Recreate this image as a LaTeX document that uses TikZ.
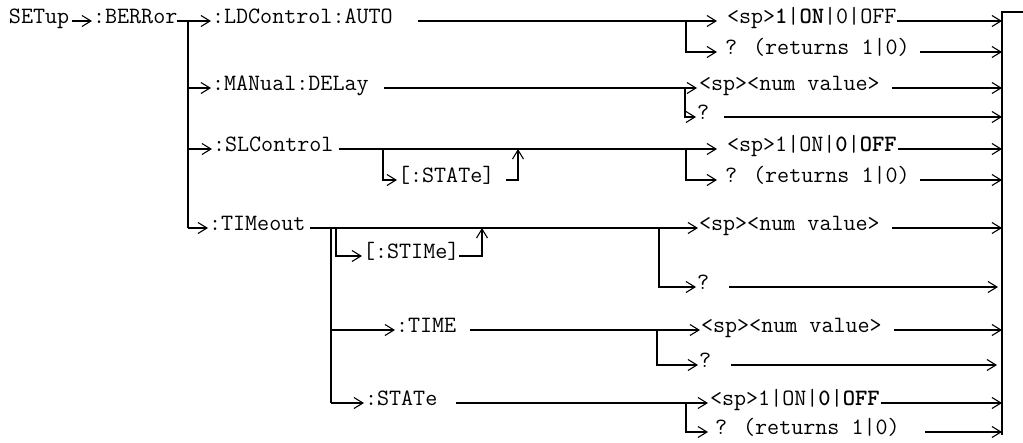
\documentclass[tikz,border=0pt]{standalone}
\usepackage{fontspec}
\usetikzlibrary{arrows.meta,calc}
\begin{document}
\begin{tikzpicture}[x=1pt,y=-1pt,
  lbl/.style={inner sep=0pt, outer sep=0pt, anchor=mid west, font=\ttfamily\fontsize{23.4}{28}\selectfont},
  wire/.style={line width=1.1pt},
  arr/.style={wire, -{Straight Barb[length=9pt,width=11pt]}},
]
\useasboundingbox (0,0) rectangle (1023,442);

% labels, left part
\node[lbl] (setup) at (9,21) {SETup};
\node[lbl] (berr) at (93,21) {:BERRor};
\node[lbl] (ldc) at (212,21) {:LDControl:AUTO};
\node[lbl] (man) at (212,88) {:MANual:DELay};
\node[lbl] (slc) at (213,149) {:SLControl};
\node[lbl] (tim) at (209,228) {:TIMeout};
\node[lbl] (slcst) at (398,180) {[:STATe]};
\node[lbl] (stim) at (363,256) {[:STIMe]};
\node[lbl] (time) at (396,330) {:TIME};
\node[lbl] (stat) at (365,403) {:STATe};

% parameter labels
\node[lbl] (ldcA) at (727,21) {<sp>\textbf{1}|\textbf{ON}|0|OFF};
\node[lbl] (ldcB) at (725,52) {? (returns 1|0)};
\node[lbl] (manA) at (699,88) {<sp><num value>};
\node[lbl] (manB) at (697,117) {?};
\node[lbl] (slcA) at (727,149) {<sp>1|ON|\textbf{0}|\textbf{OFF}};
\node[lbl] (slcB) at (725,180) {? (returns 1|0)};
\node[lbl] (timA) at (699,228) {<sp><num value>};
\node[lbl] (timB) at (697,287) {?};
\node[lbl] (timeA) at (701,330) {<sp><num value>};
\node[lbl] (timeB) at (699,365) {?};
\node[lbl] (statA) at (710,403) {<sp>1|ON|\textbf{0}|\textbf{OFF}};
\node[lbl] (statB) at (715,432) {? (returns 1|0)};

% junctions
\coordinate (tr) at (188,21);
\coordinate (ldcJ) at (686,21);
\coordinate (manJ) at (685,88);
\coordinate (slcJ) at (686,149);
\coordinate (slcS) at (383,149);
\coordinate (slcU) at (518,149);
\coordinate (timJ) at (659,228);
\coordinate (timT) at (331,228);
\coordinate (timS) at (336,228);
\coordinate (timU) at (482,228);
\coordinate (timeJ) at (657,330);
\coordinate (statJ) at (686,403);
\coordinate (busT) at (1002,12);
\coordinate (busB) at (1002,435);
\coordinate (busE) at (1023,12);

% left tree
\draw[arr] ([xshift=3pt]setup.mid east) -- ([xshift=-1pt]berr.mid west);
\draw[arr] (berr.mid east) -- ([xshift=-1pt]ldc.mid west);
\draw[wire] (tr) -- (tr |- tim.mid west);
\draw[arr] (tr |- man.mid west) -- ([xshift=-1pt]man.mid west);
\draw[arr] (tr |- slc.mid west) -- ([xshift=-1pt]slc.mid west);
\draw[arr] (tr |- tim.mid west) -- ([xshift=-1pt]tim.mid west);

% LDControl
\draw[arr] ([xshift=25pt]ldc.mid east) -- ([xshift=-10pt]ldcA.mid west);
\draw[arr] (ldcJ) -- (ldcJ |- ldcB.mid west) -- ([xshift=-8pt]ldcB.mid west);

% MANual:DELay
\draw[arr] ([xshift=15pt]man.mid east) -- ([xshift=-2pt]manA.mid west);
\draw[arr] (manJ) -- (manJ |- manB.mid west) -- ([xshift=-1pt]manB.mid west);

% SLControl
\draw[arr] ([xshift=5pt]slc.mid east) -- ([xshift=-10pt]slcA.mid west);
\draw[arr] (slcS) -- (slcS |- slcst.mid west) -- ([xshift=-1pt]slcst.mid west);
\draw[arr] ([xshift=12pt]slcst.mid east) -- (slcU |- slcst.mid east) -- (slcU);
\draw[arr] (slcJ) -- (slcJ |- slcB.mid west) -- ([xshift=-8pt]slcB.mid west);

% TIMeout
\draw[arr] ([xshift=5pt]tim.mid east) -- ([xshift=-1pt]timA.mid west);
\draw[wire] (timT) -- (timT |- stat.mid west);
\draw[arr] (timS) -- (timS |- stim.mid west) -- ([xshift=-1pt]stim.mid west);
\draw[arr] (stim.mid east) -- (timU |- stim.mid east) -- (timU);
\draw[arr] (timJ) -- (timJ |- timB.mid west) -- ([xshift=-1pt]timB.mid west);
\draw[arr] (timT |- time.mid west) -- ([xshift=-1pt]time.mid west);
\draw[arr] (timT |- stat.mid west) -- ([xshift=-1pt]stat.mid west);

% TIME
\draw[arr] ([xshift=14pt]time.mid east) -- ([xshift=-1pt]timeA.mid west);
\draw[arr] (timeJ) -- (timeJ |- timeB.mid west) -- ([xshift=-1pt]timeB.mid west);

% STATe
\draw[arr] ([xshift=19pt]stat.mid east) -- ([xshift=-2pt]statA.mid west);
\draw[arr] (statJ) -- (statJ |- statB.mid west) -- ([xshift=-7pt]statB.mid west);

% right bus
\draw[wire] (busE) -- (busT) -- (busB);
\foreach \n/\g/\e in {ldcA/1/0, ldcB/10/0, manA/12/0, manB/15/0, slcA/1/0, slcB/10/0,
                      timA/12/0, timB/20/4, timeA/12/0, timeB/20/5, statA/1/0, statB/25/0}
  \draw[arr] ([xshift=\g pt]\n.mid east) -- ($(busT |- \n.mid east)+(-\e,0)$);
\end{tikzpicture}
\end{document}
